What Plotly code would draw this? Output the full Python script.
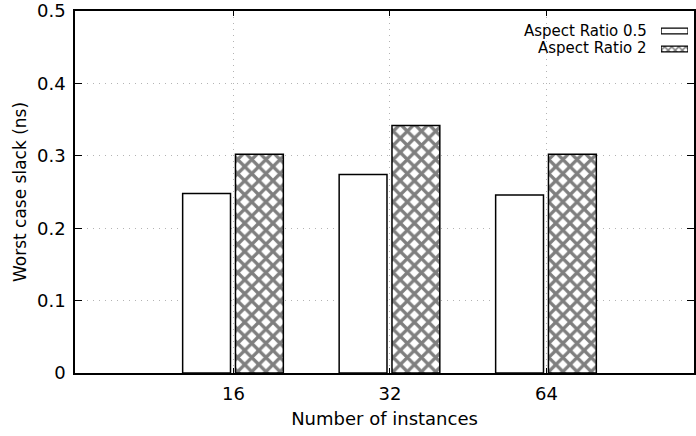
import plotly.graph_objects as go

categories = ["16", "32", "64"]
series_names = ["Aspect Ratio 0.5", "Aspect Ratio 2"]
ratio_05 = [0.248, 0.274, 0.246]
ratio_2 = [0.302, 0.342, 0.302]
y_ticks = [0, 0.1, 0.2, 0.3, 0.4, 0.5]
y_tick_labels = ["0", "0.1", "0.2", "0.3", "0.4", "0.5"]

FONT = "DejaVu Sans"
W, H = 696, 436
L, R, T, B = 75, 0, 11, 63
pw, ph = W - L - R, H - T - B

xpos = [i + 1 for i in range(len(categories))]
unit = 157.0
bw = 48 / unit

fig = go.Figure()
line = dict(color="black", width=1.5)
hatch = dict(shape="x", fgcolor="black", bgcolor="white", size=10, solidity=0.55)

fig.add_trace(go.Bar(x=xpos, y=ratio_05, width=[bw] * 3, offset=-51 / unit,
                     marker=dict(color="white", line=line), showlegend=False))
fig.add_trace(go.Bar(x=xpos, y=ratio_2, width=[bw] * 3, offset=2 / unit,
                     marker=dict(color="white", line=line, pattern=hatch), showlegend=False))

# legend samples on a small overlay axis
fig.add_trace(go.Bar(x=[1], y=[1], orientation="h", width=0.33, xaxis="x2", yaxis="y2",
                     marker=dict(color="white", line=dict(color="black", width=1.2)), showlegend=False))
fig.add_trace(go.Bar(x=[1], y=[0], orientation="h", width=0.33, xaxis="x2", yaxis="y2",
                     marker=dict(color="white", line=dict(color="black", width=1.2),
                                 pattern=dict(shape="x", fgcolor="black", bgcolor="white", size=5, solidity=0.5)),
                     showlegend=False))

def px_x(p):
    return (p - L) / pw

def px_y(p):
    return (H - B - p) / ph

for name, ypix in zip(series_names, [31, 48]):
    fig.add_annotation(text=name, xref="paper", yref="paper", x=px_x(651), y=px_y(ypix),
                       xanchor="right", yanchor="middle", showarrow=False,
                       font=dict(family=FONT, size=15, color="black"))

xmin = 1 - (234 - L) / unit
xmax = 1 + (W - 234) / unit

grid = dict(showgrid=True, gridcolor="#b4b4b4", griddash="1px,5px", gridwidth=1)

fig.update_layout(
    width=W, height=H,
    margin=dict(l=L, r=R, t=T, b=B),
    paper_bgcolor="white", plot_bgcolor="white",
    barmode="overlay",
    font=dict(family=FONT, size=17, color="black"),
    xaxis=dict(range=[xmin, xmax], tickvals=xpos, ticktext=categories,
               ticks="inside", ticklen=5, tickcolor="black", mirror="ticks",
               showline=True, linecolor="black", linewidth=1.5,
               zeroline=False, ticklabelstandoff=4, tickfont=dict(size=18),
               title=dict(text="Number of instances", standoff=9, font=dict(size=18)),
               **grid),
    yaxis=dict(range=[0, 0.5], tickvals=y_ticks, ticktext=y_tick_labels,
               ticks="inside", ticklen=7, tickcolor="black", mirror="ticks",
               showline=True, linecolor="black", linewidth=1.5,
               zeroline=False, ticklabelstandoff=4, tickfont=dict(size=18),
               title=dict(text="Worst case slack (ns)", standoff=6, font=dict(size=17)),
               **grid),
    xaxis2=dict(domain=[px_x(663), px_x(690)], range=[0, 1], visible=False, anchor="y2",
                fixedrange=True),
    yaxis2=dict(domain=[px_y(58), px_y(22)], range=[-0.5, 1.5], visible=False, anchor="x2",
                fixedrange=True),
)

fig.write_html("out.html")
